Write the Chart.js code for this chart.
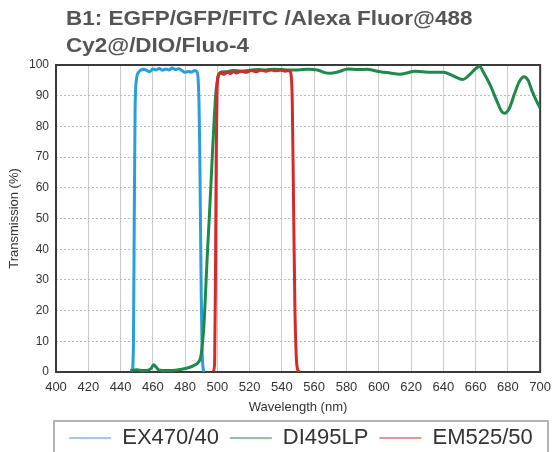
<!DOCTYPE html>
<html>
<head>
<meta charset="utf-8">
<script src="https://cdn.jsdelivr.net/npm/chart.js@4/dist/chart.umd.min.js"></script>
<style>
  html, body { margin: 0; padding: 0; background: #fff; }
  #wrap { position: relative; width: 559px; height: 452px; overflow: hidden; }
  #wrap canvas { position: absolute; left: 0; top: 0; }
  #title {
    position: absolute; left: 66px; top: 4px;
    font: bold 21px "Liberation Sans", Arial, sans-serif;
    line-height: 27px; color: #555;
    transform: scaleX(1.07); transform-origin: left top;
    white-space: nowrap;
  }
</style>
</head>
<body>
<div id="wrap">
  <canvas id="chart" width="559" height="452"></canvas>
  <div id="title">B1: EGFP/GFP/FITC /Alexa Fluor@488<br>Cy2@/DIO/Fluo-4</div>
</div>
<script>
// x ticks / y ticks
const xTicks = [400, 420, 440, 460, 480, 500, 520, 540, 560, 580, 600, 620, 640, 660, 680, 700];
const yTicks = [0, 10, 20, 30, 40, 50, 60, 70, 80, 90, 100];

// EX470/40
const exWl = [447.5, 448, 448.5, 449, 449.8, 451, 452.5, 454, 456, 458, 460, 462, 464, 466, 468, 470, 472, 474, 476, 478, 480, 482, 484, 486, 487.3, 488, 488.6, 489, 489.5, 490, 490.5, 491.2, 492];
const exT = [0.3, 10, 50, 85, 95, 97.5, 98.3, 98.6, 98.3, 97.8, 98.7, 98.4, 98.9, 98.3, 98.7, 98.4, 99, 98.5, 98.8, 98.2, 97.6, 97.9, 97.7, 98.2, 97.8, 96, 88, 75, 50, 25, 8, 1, 0];

// DI495LP
const dcWl = [446, 450, 454, 457, 459, 460.5, 462, 463.5, 466, 470, 474, 478, 482, 485, 487.5, 489.5, 490.5, 491.6, 492.6, 493.6, 495, 496, 497, 498, 499, 500, 501, 502.5, 505, 510, 515, 520, 525, 530, 535, 540, 545, 550, 556, 562, 566, 570, 575, 581, 587, 593, 597, 601, 607, 613, 618, 622, 627, 632, 640, 646, 652, 657, 660, 662.5, 665, 669, 673, 676, 678, 681, 684, 687, 690, 692.5, 695, 698, 700];
const dcT = [0.5, 0.7, 0.5, 0.6, 1.2, 2.4, 1.6, 0.7, 0.5, 0.5, 0.6, 0.9, 1.4, 2, 2.8, 4.5, 8, 14.7, 25, 36.5, 50.5, 61, 72, 82, 90.5, 95, 97, 97.7, 97.8, 98.2, 98, 98.3, 98.5, 98.4, 98.6, 98.5, 98.4, 98.4, 98.6, 98.4, 97.6, 97.3, 97.8, 98.7, 98.5, 98.6, 98.2, 97.8, 97.4, 97, 97.5, 98, 97.8, 97.6, 97.6, 96.5, 95.3, 97.2, 98.8, 99.5, 97.5, 93.5, 88.5, 85, 84.3, 86, 90.5, 94.5, 96.2, 95, 91.5, 88, 85.9];

// EM525/50
const emWl = [497.5, 498.3, 498.8, 499.3, 499.8, 500.5, 502, 504, 506, 508, 510, 512, 515, 518, 521, 524, 527, 530, 533, 536, 539, 542, 544.5, 545.6, 546.4, 547.2, 548, 548.8, 549.6, 551];
const emT = [0.2, 3, 30, 72, 91, 96.5, 97.4, 97, 97.6, 97.2, 97.8, 97.4, 98, 97.6, 98.2, 97.8, 98.3, 98, 98.4, 98.1, 98.3, 98, 98.2, 97, 88, 55, 22, 6, 1, 0];

const labels = ["EX470/40", "DI495LP", "EM525/50"];
const colors = ["#2a9ddc", "#1d8a4a", "#d42a2a"];

function pts(xs, ys) {
  return xs.map((x, i) => ({ x: x, y: ys[i] }));
}

const frame = {
  id: "frame",
  afterLayout(chart) {
    const lg = chart.legend;
    lg.left = 54; lg.right = 548; lg.width = 494;
    lg.top = 416; lg.bottom = 416 + lg.height;
  },
  beforeDatasetsDraw(chart) {
    const a = chart.chartArea;
    const c = chart.ctx;
    c.save();
    c.strokeStyle = "#3a3a3a";
    c.lineWidth = 2;
    c.strokeRect(a.left, a.top, a.right - a.left, a.bottom - a.top);
    c.restore();
  },
  afterDraw(chart) {
    const lg = chart.legend;
    const c = chart.ctx;
    c.save();
    c.strokeStyle = "#b4b4b4";
    c.lineWidth = 2;
    c.strokeRect(lg.left, lg.top + 5, lg.right - lg.left, 60);
    c.restore();
  }
};

new Chart(document.getElementById("chart"), {
  type: "line",
  data: {
    datasets: [
      { label: labels[0], data: pts(exWl, exT), borderColor: colors[0], order: 3 },
      { label: labels[1], data: pts(dcWl, dcT), borderColor: colors[1], order: 2 },
      { label: labels[2], data: pts(emWl, emT), borderColor: colors[2], order: 1 }
    ]
  },
  options: {
    responsive: false,
    animation: false,
    layout: { padding: { top: 65, right: 15, left: 0, bottom: 0 } },
    elements: {
      point: { radius: 0 },
      line: { borderWidth: 3, cubicInterpolationMode: "monotone", fill: false }
    },
    scales: {
      x: {
        type: "linear", min: 400, max: 700,
        afterBuildTicks: s => { s.ticks = xTicks.map(v => ({ value: v })); },
        afterFit: s => { s.height = 80 - (s.chart.legend ? s.chart.legend.height : 0); },
        grid: { color: "#cacaca", lineWidth: 1, drawTicks: false },
        border: { display: false },
        ticks: { padding: 8, color: "#333", font: { family: "Liberation Sans, Arial", size: 13 } },
        title: { display: true, text: "Wavelength (nm)", color: "#333", padding: { top: 0, bottom: -6 },
                 font: { family: "Liberation Sans, Arial", size: 13 } }
      },
      y: {
        min: 0, max: 100,
        afterBuildTicks: s => { s.ticks = yTicks.map(v => ({ value: v })); },
        afterFit: s => { s.width = 56; },
        grid: { color: "#bdbdbd", lineWidth: 1, drawTicks: false },
        border: { display: false, dash: [2, 2] },
        ticks: { padding: 7, color: "#333", font: { family: "Liberation Sans, Arial", size: 12 } },
        title: { display: true, text: "Transmission (%)", color: "#333", padding: { top: 7, bottom: 7 },
                 font: { family: "Liberation Sans, Arial", size: 13 } }
      }
    },
    plugins: {
      title: { display: false },
      tooltip: { enabled: false },
      legend: {
        position: "bottom",
        labels: {
          usePointStyle: true,
          pointStyleWidth: 42,
          padding: 11,
          color: "#333",
          font: { family: "Liberation Sans, Arial", size: 22 },
          generateLabels: chart => chart.data.datasets.map((ds, i) => ({
            text: ds.label,
            strokeStyle: ds.borderColor,
            fillStyle: ds.borderColor,
            lineWidth: 1,
            pointStyle: "line",
            hidden: false,
            datasetIndex: i,
            fontColor: "#333"
          }))
        }
      }
    }
  },
  plugins: [frame]
});
</script>
</body>
</html>
